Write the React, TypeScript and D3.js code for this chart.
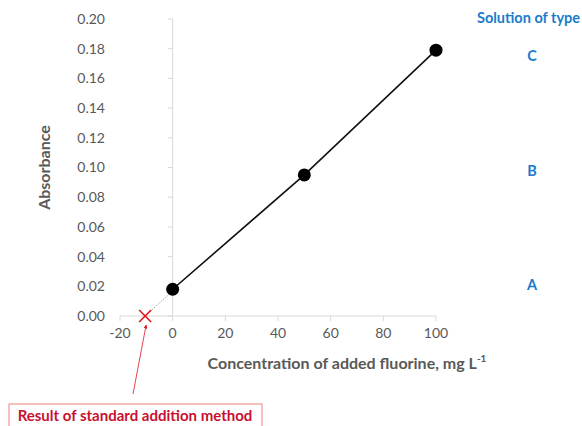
import React from 'react';
import * as d3 from 'd3';

// standard addition data: added fluorine (mg/L) vs absorbance
const added = [0, 50, 100];
const absorbance = [0.018, 0.095, 0.179];
const solutionTypes = ['A', 'B', 'C'];
const typeLevels = [0.021, 0.098, 0.175];
const xTicks = [-20, 0, 20, 40, 60, 80, 100];
const yTicks = [0, 0.02, 0.04, 0.06, 0.08, 0.1, 0.12, 0.14, 0.16, 0.18, 0.2];

const W = 582;
const H = 426;
const FONT = 'Lato, "Open Sans", sans-serif';
const GREY = '#595959';
const BLUE = '#1a7bcc';
const RED = '#e0141e';

const App = () => {
    const x = d3.scaleLinear().domain([-20, 100]).range([120, 436]);
    const y = d3.scaleLinear().domain([0, 0.2]).range([316, 19]);

    // least squares fit -> x intercept
    const mx = d3.mean(added);
    const my = d3.mean(absorbance);
    const slope = d3.sum(added, (d, i) => (d - mx) * (absorbance[i] - my)) /
        d3.sum(added, d => (d - mx) ** 2);
    const icept = my - slope * mx;
    const xInt = -icept / slope;

    const points = added.map((d, i) => ({ x: d, y: absorbance[i] }));
    const line = d3.line().x(d => x(d.x)).y(d => y(d.y));

    const cx = x(xInt);
    const cy = y(0);

    return (
        <svg width={W} height={H} style={{ position: 'absolute', left: 0, top: 0, fontFamily: FONT }}>
            <defs>
                <marker id="arr" viewBox="0 0 10 10" refX="9" refY="5" markerWidth="5" markerHeight="5" orient="auto">
                    <path d="M0,0 L10,5 L0,10 z" fill={RED} />
                </marker>
            </defs>
            {/* y axis */}
            <line x1={x(0)} x2={x(0)} y1={y(0)} y2={y(0.2)} stroke="#d9d9d9" />
            {yTicks.map(t => (
                <g key={t}>
                    <line x1={x(0) - 5} x2={x(0)} y1={y(t)} y2={y(t)} stroke="#d9d9d9" />
                    <text x={105} y={y(t)} dy="0.35em" textAnchor="end" fontSize={14} fill={GREY}>{t.toFixed(2)}</text>
                </g>
            ))}
            {/* x axis */}
            <line x1={x(-20)} x2={x(100)} y1={y(0)} y2={y(0)} stroke="#d9d9d9" />
            {xTicks.map(t => (
                <g key={t}>
                    <line x1={x(t)} x2={x(t)} y1={y(0)} y2={y(0) + 5} stroke="#d9d9d9" />
                    <text x={x(t)} y={y(0) + 22} textAnchor="middle" fontSize={14} fill={GREY}>{t}</text>
                </g>
            ))}
            <text transform={`translate(50,${(y(0) + y(0.2)) / 2}) rotate(-90)`} textAnchor="middle"
                fontSize={16} fontWeight="bold" fill={GREY}>Absorbance</text>
            <text x={347} y={369} textAnchor="middle" fontSize={16} fontWeight="bold" fill={GREY}>
                Concentration of added fluorine, mg L<tspan dy="-7" fontSize={10}>-1</tspan>
            </text>

            {/* extrapolation */}
            <line x1={cx} y1={cy} x2={x(0)} y2={y(icept)} stroke="#a0a0a0" strokeWidth={1} strokeDasharray="1.5,1.5" />
            <path d={line(points)} fill="none" stroke="#111" strokeWidth={1.6} />
            {points.map(p => (
                <circle key={p.x} cx={x(p.x)} cy={y(p.y)} r={6.5} fill="#000" />
            ))}
            <g stroke={RED} strokeWidth={1.6}>
                <line x1={cx - 6} y1={cy - 6} x2={cx + 6} y2={cy + 6} />
                <line x1={cx - 6} y1={cy + 6} x2={cx + 6} y2={cy - 6} />
            </g>

            {/* solution type labels */}
            <text x={477} y={23} fontSize={14.5} fontWeight="bold" fill={BLUE}>Solution of type</text>
            {solutionTypes.map((s, i) => (
                <text key={s} x={532} y={y(typeLevels[i])} dy="0.35em" textAnchor="middle"
                    fontSize={14.5} fontWeight="bold" fill={BLUE}>{s}</text>
            ))}

            {/* annotation */}
            <line x1={133} y1={394} x2={cx + 1} y2={cy + 9} stroke={RED} strokeWidth={0.8} markerEnd="url(#arr)" />
            <rect x={9} y={404} width={253} height={30} fill="#fff" stroke="#f08080" strokeWidth={1} />
            <text x={135} y={421} textAnchor="middle" fontSize={15} fontWeight="bold" fill="#c8102e">
                Result of standard addition method
            </text>
        </svg>
    );
};

export default App;
